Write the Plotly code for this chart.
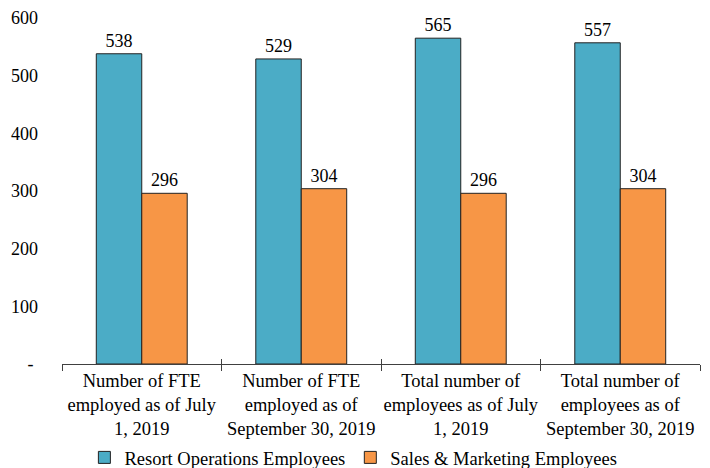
import plotly.graph_objects as go

categories = [
    "Number of FTE<br>employed as of July<br>1, 2019",
    "Number of FTE<br>employed as of<br>September 30, 2019",
    "Total number of<br>employees as of July<br>1, 2019",
    "Total number of<br>employees as of<br>September 30, 2019",
]
resort_ops = [538, 529, 565, 557]
sales_marketing = [296, 304, 296, 304]
y_tick_vals = [0, 100, 200, 300, 400, 500, 600]
y_tick_text = ["-\u00a0", "100", "200", "300", "400", "500", "600"]

FONT = "Liberation Serif, Times New Roman, serif"

fig = go.Figure()
fig.add_trace(go.Bar(
    x=categories, y=resort_ops, name="Resort Operations Employees",
    marker=dict(color="#4BACC6", line=dict(color="#222222", width=1)),
    text=resort_ops, textposition="outside", cliponaxis=False,
    textfont=dict(family=FONT, size=18, color="black"),
))
fig.add_trace(go.Bar(
    x=categories, y=sales_marketing, name="Sales & Marketing Employees",
    marker=dict(color="#F79646", line=dict(color="#222222", width=1)),
    text=sales_marketing, textposition="outside", cliponaxis=False,
    textfont=dict(family=FONT, size=18, color="black"),
))
# invisible helper trace so an overlay axis can draw the upper half of the tick marks
fig.add_trace(go.Scatter(
    x=categories, y=[None] * len(categories), xaxis="x2", yaxis="y",
    showlegend=False, hoverinfo="skip", mode="markers",
))

# page body has an 8px default margin, so the figure is sized to fit the window
fig.update_layout(
    width=702, height=460,
    margin=dict(l=54, r=10, t=10, b=104),
    paper_bgcolor="white", plot_bgcolor="white",
    font=dict(family=FONT, size=18, color="black"),
    barmode="group", bargap=0.43, bargroupgap=0,
    showlegend=True,
    legend=dict(orientation="h", xref="container", yref="container",
                x=0.492, xanchor="center", y=0.022, yanchor="middle",
                font=dict(family=FONT, size=18.5, color="black"),
                itemwidth=30, traceorder="normal", tracegroupgap=0),
    xaxis=dict(showline=True, linecolor="#404040", linewidth=1, automargin=False,
               ticks="outside", tickson="boundaries", ticklen=6, tickcolor="#404040",
               tickangle=0, ticklabeloverflow="allow",
               tickfont=dict(family=FONT, size=18.5, color="black"),
               showgrid=False),
    xaxis2=dict(overlaying="x", matches="x", anchor="y", side="bottom",
                showline=False, showticklabels=False, automargin=False,
                ticks="inside", tickson="boundaries", ticklen=5, tickcolor="#404040",
                showgrid=False),
    yaxis=dict(range=[0, 600], tickvals=y_tick_vals, ticktext=y_tick_text,
               showgrid=False, zeroline=False, showline=False, ticks="",
               automargin=False, ticklabelstandoff=23, ticklabeloverflow="allow",
               tickfont=dict(family=FONT, size=18, color="black")),
)

fig.write_html("out.html")
